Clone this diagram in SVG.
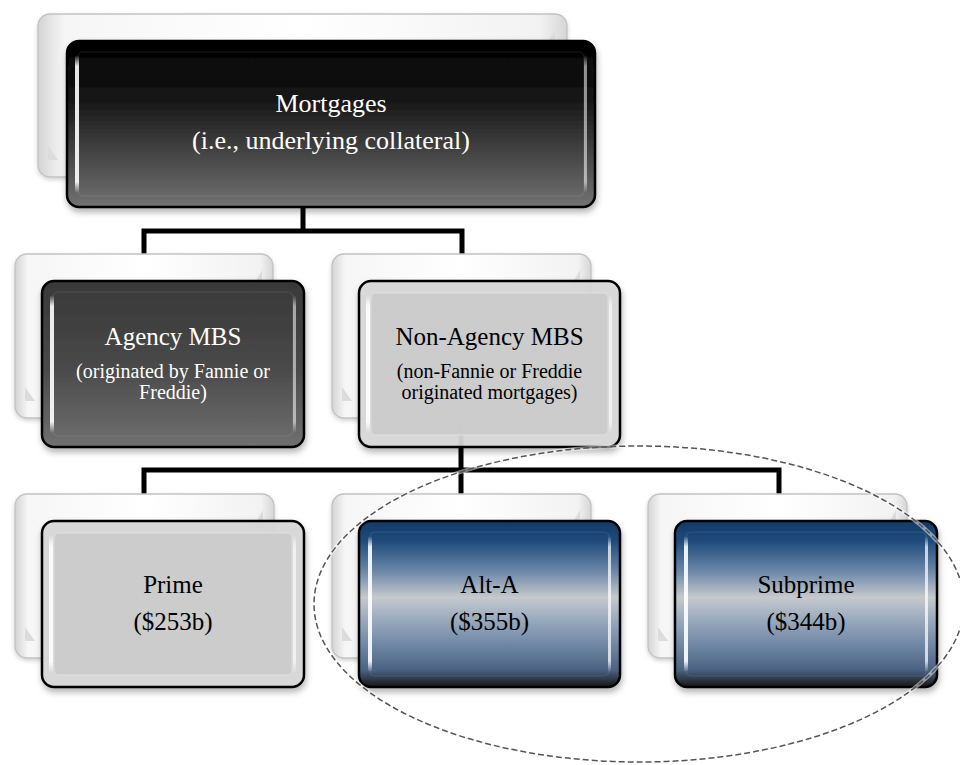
<svg xmlns="http://www.w3.org/2000/svg" width="960" height="765" viewBox="0 0 960 765">
<defs>
<linearGradient id="gBack" x1="0" y1="0" x2="1" y2="0">
<stop offset="0" stop-color="#d4d4d4"/><stop offset="0.05" stop-color="#f6f6f6"/><stop offset="0.5" stop-color="#ffffff"/><stop offset="0.95" stop-color="#f2f2f2"/><stop offset="1" stop-color="#d6d6d6"/>
</linearGradient>
<linearGradient id="gTop" x1="0" y1="0" x2="0" y2="1">
<stop offset="0" stop-color="#000"/><stop offset="0.35" stop-color="#161616"/><stop offset="0.8" stop-color="#565656"/><stop offset="1" stop-color="#727272"/>
</linearGradient>
<linearGradient id="gAgency" x1="0" y1="0" x2="0" y2="1">
<stop offset="0" stop-color="#383838"/><stop offset="0.5" stop-color="#484848"/><stop offset="1" stop-color="#707070"/>
</linearGradient>
<linearGradient id="gBlue" x1="0" y1="0" x2="0" y2="1">
<stop offset="0" stop-color="#143a66"/><stop offset="0.12" stop-color="#1f4b7c"/><stop offset="0.3" stop-color="#6a86a8"/><stop offset="0.46" stop-color="#c6c9cd"/><stop offset="0.58" stop-color="#9eadc0"/><stop offset="0.76" stop-color="#6c84a2"/><stop offset="0.9" stop-color="#4a6181"/><stop offset="1" stop-color="#151515"/>
</linearGradient>
<linearGradient id="gHi" x1="0" y1="0" x2="0" y2="1">
<stop offset="0" stop-color="#fff" stop-opacity="0"/><stop offset="0.08" stop-color="#fff" stop-opacity="0.9"/><stop offset="0.92" stop-color="#fff" stop-opacity="0.9"/><stop offset="1" stop-color="#fff" stop-opacity="0"/>
</linearGradient>
<filter id="sh" x="-10%" y="-10%" width="120%" height="125%">
<feDropShadow dx="1" dy="4" stdDeviation="3" flood-color="#000" flood-opacity="0.3"/>
</filter>
<filter id="shb" x="-10%" y="-10%" width="120%" height="125%">
<feDropShadow dx="0" dy="2" stdDeviation="2" flood-color="#000" flood-opacity="0.18"/>
</filter>
</defs>
<style>
.back{fill:url(#gBack);stroke:#c2c2c2;stroke-width:1.3;filter:url(#shb)}
.tri{fill:#dcdcdc}
.front{stroke:#000;stroke-width:2.5;filter:url(#sh)}
.lbl{font-family:"Liberation Serif","Times New Roman",serif;text-anchor:middle}
.main{font-size:25px}
.big{font-size:26px}
.sub{font-size:20px}
.w{fill:#fff}
.k{fill:#000}
.conn{stroke:#000;stroke-width:5;fill:none}
.hiL{fill:url(#gHi)}
.bevel{fill:none;stroke:#fff;stroke-opacity:0.07;stroke-width:1.5}
.face{fill:#cbcbcb;fill-opacity:0.92;stroke:#dedede;stroke-width:1}
.ell{fill:none;stroke:#555;stroke-width:1.5;stroke-dasharray:6 3}
</style>
<rect width="960" height="765" fill="#fff"/>

<g id="connectors">
<path class="conn" d="M303 207V231M144 254V231H462V254"/>
<path class="conn" d="M461 420V470M144 494V470H779V494M461 470V494"/>
</g>

<g id="node-mortgages">
<rect class="back" x="38" y="14" width="529" height="163" rx="12"/>
<polygon class="tri" points="555,30 555,48 545,48"/>
<polygon class="tri" points="48,160 48,146 58,160"/>
<rect class="front" x="67" y="41" width="528" height="166" rx="12" fill="url(#gTop)"/>
<rect class="bevel" x="78" y="52" width="506" height="144" rx="5"/>
<rect class="hiL" x="75" y="55" width="4" height="138" rx="2"/>
<rect class="hiL" x="584" y="55" width="3" height="138" rx="1.5" opacity="0.6"/>
<text class="lbl big w" x="331" y="112">Mortgages</text>
<text class="lbl big w" x="331" y="149">(i.e., underlying collateral)</text>
</g>

<g id="node-agency">
<rect class="back" x="15" y="254" width="258" height="164" rx="12"/>
<polygon class="tri" points="262,270 262,288 252,288"/>
<polygon class="tri" points="25,401 25,387 35,401"/>
<rect class="front" x="42" y="281" width="262" height="166" rx="12" fill="url(#gAgency)"/>
<rect class="bevel" x="53" y="292" width="240" height="144" rx="5"/>
<rect class="hiL" x="50" y="295" width="4" height="138" rx="2"/>
<rect class="hiL" x="293" y="295" width="3" height="138" rx="1.5" opacity="0.6"/>
<text class="lbl main w" x="173" y="345">Agency MBS</text>
<text class="lbl sub w" x="173" y="378">(originated by Fannie or</text>
<text class="lbl sub w" x="173" y="399">Freddie)</text>
</g>

<g id="node-nonagency">
<rect class="back" x="332" y="254" width="259" height="164" rx="12"/>
<polygon class="tri" points="580,270 580,288 570,288"/>
<polygon class="tri" points="342,401 342,387 352,401"/>
<rect class="front" x="359" y="281" width="261" height="166" rx="12" fill="#d8d8d8" fill-opacity="0.93"/>
<rect class="face" x="371" y="293" width="237" height="142" rx="5"/>
<rect class="hiL" x="366" y="295" width="4" height="138" rx="2"/>
<rect class="hiL" x="609" y="295" width="3" height="138" rx="1.5" opacity="0.7"/>
<text class="lbl main k" x="489.5" y="345">Non-Agency MBS</text>
<text class="lbl sub k" x="489.5" y="378">(non-Fannie or Freddie</text>
<text class="lbl sub k" x="489.5" y="399">originated mortgages)</text>
</g>

<g id="node-prime">
<rect class="back" x="15" y="494" width="259" height="164" rx="12"/>
<polygon class="tri" points="263,510 263,528 253,528"/>
<polygon class="tri" points="25,641 25,627 35,641"/>
<rect class="front" x="42" y="521" width="262" height="166" rx="12" fill="#d8d8d8" fill-opacity="0.93"/>
<rect class="face" x="54" y="533" width="238" height="142" rx="5"/>
<rect class="hiL" x="49" y="535" width="4" height="138" rx="2"/>
<rect class="hiL" x="293" y="535" width="3" height="138" rx="1.5" opacity="0.7"/>
<text class="lbl main k" x="173" y="593">Prime</text>
<text class="lbl main k" x="173" y="630">($253b)</text>
</g>

<g id="node-alta">
<rect class="back" x="332" y="494" width="259" height="164" rx="12"/>
<polygon class="tri" points="580,510 580,528 570,528"/>
<polygon class="tri" points="342,641 342,627 352,641"/>
<rect class="front" x="359" y="521" width="261" height="166" rx="12" fill="url(#gBlue)"/>
<rect class="bevel" x="370" y="532" width="239" height="144" rx="5"/>
<rect class="hiL" x="368" y="536" width="4" height="136" rx="2"/>
<rect class="hiL" x="608" y="536" width="3" height="136" rx="1.5" opacity="0.8"/>
<text class="lbl main k" x="489.5" y="593">Alt-A</text>
<text class="lbl main k" x="489.5" y="630">($355b)</text>
</g>

<g id="node-subprime">
<rect class="back" x="648" y="494" width="259" height="164" rx="12"/>
<polygon class="tri" points="896,510 896,528 886,528"/>
<polygon class="tri" points="658,641 658,627 668,641"/>
<rect class="front" x="675" y="521" width="262" height="166" rx="12" fill="url(#gBlue)"/>
<rect class="bevel" x="686" y="532" width="240" height="144" rx="5"/>
<rect class="hiL" x="684" y="536" width="4" height="136" rx="2"/>
<rect class="hiL" x="925" y="536" width="3" height="136" rx="1.5" opacity="0.8"/>
<text class="lbl main k" x="806" y="593">Subprime</text>
<text class="lbl main k" x="806" y="630">($344b)</text>
</g>

<g id="highlight-ellipse">
<ellipse cx="639" cy="604" rx="325" ry="158" fill="none" stroke="#fff" stroke-width="4" stroke-opacity="0.5"/>
<ellipse class="ell" cx="639" cy="604" rx="325" ry="158"/>
</g>
</svg>
